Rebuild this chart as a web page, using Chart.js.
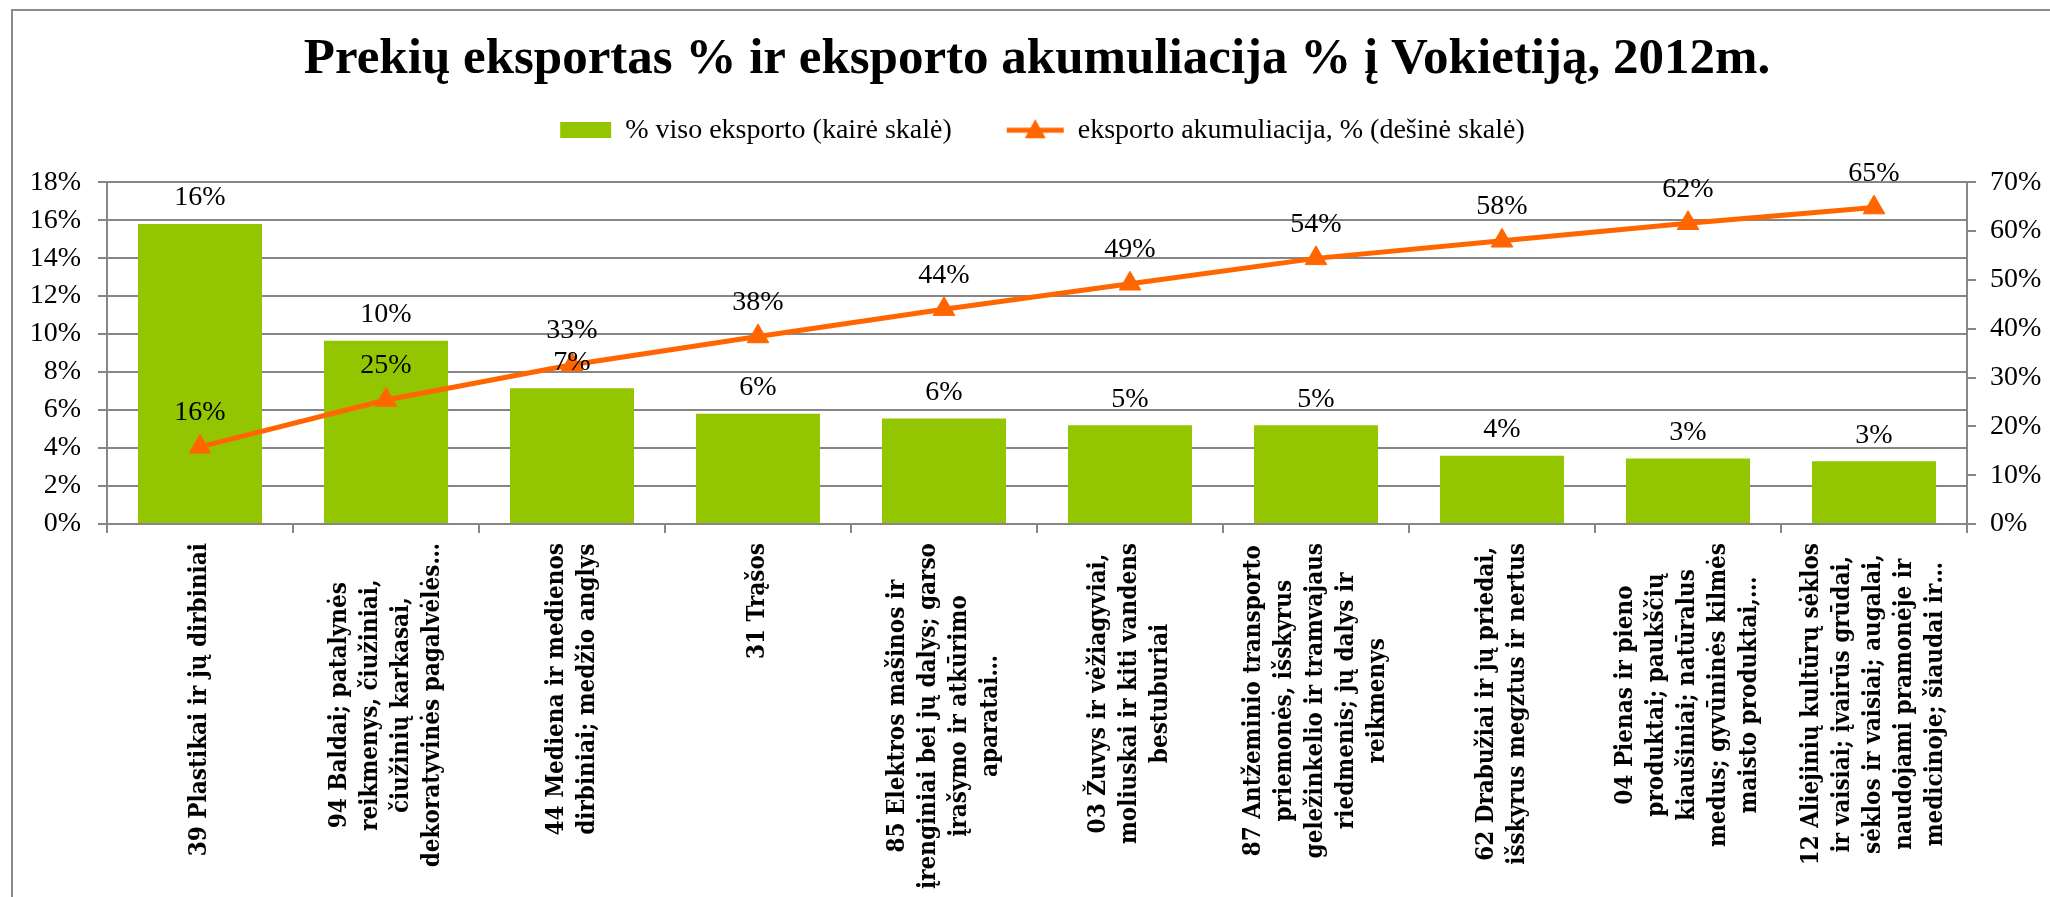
<!DOCTYPE html>
<html>
<head>
<meta charset="utf-8">
<script src="https://cdn.jsdelivr.net/npm/chart.js@4/dist/chart.umd.min.js"></script>
<style>
  html, body { margin: 0; padding: 0; background: #fff; }
  canvas { display: block; }
</style>
</head>
<body>
<canvas id="exportChart" width="2050" height="897"></canvas>
<script>
// Data
const categories = [
  ["39 Plastikai ir jų dirbiniai"],
  ["94 Baldai; patalynės", "reikmenys, čiužiniai,", "čiužinių karkasai,", "dekoratyvinės pagalvėlės…"],
  ["44 Mediena ir medienos", "dirbiniai; medžio anglys"],
  ["31 Trąšos"],
  ["85 Elektros mašinos ir", "įrenginiai bei jų dalys; garso", "įrašymo ir atkūrimo", "aparatai…"],
  ["03 Žuvys ir vėžiagyviai,", "moliuskai ir kiti vandens", "bestuburiai"],
  ["87 Antžeminio transporto", "priemonės, išskyrus", "geležinkelio ir tramvajaus", "riedmenis; jų dalys ir", "reikmenys"],
  ["62 Drabužiai ir jų priedai,", "išskyrus megztus ir nertus"],
  ["04 Pienas ir pieno", "produktai; paukščių", "kiaušiniai; natūralus", "medus; gyvūninės kilmės", "maisto produktai,…"],
  ["12 Aliejinių kultūrų sėklos", "ir vaisiai; įvairūs grūdai,", "sėklos ir vaisiai; augalai,", "naudojami pramonėje ir", "medicinoje; šiaudai ir…"]
];
const exportShare = [15.8, 9.65, 7.15, 5.8, 5.55, 5.2, 5.2, 3.6, 3.45, 3.3];
const exportCumulative = [15.8, 25.4, 32.6, 38.4, 44.0, 49.2, 54.4, 58.0, 61.6, 64.8];
const seriesNames = ["% viso eksporto (kairė skalė)", "eksporto akumuliacija, % (dešinė skalė)"];
const leftAxis = { min: 0, max: 18, step: 2 };
const rightAxis = { min: 0, max: 70, step: 10 };
const chartTitle = "Prekių eksportas % ir eksporto akumuliacija % į Vokietiją, 2012m.";

const GREEN = "#93c500";
const ORANGE = "#ff6600";
const GRID = "#868686";
const SERIF = "'Liberation Serif', 'Times New Roman', serif";

// legend symbols as small canvases
function legendBar() {
  const c = document.createElement("canvas");
  c.width = 100; c.height = 16;
  const g = c.getContext("2d");
  g.fillStyle = GREEN;
  g.fillRect(42, 0, 51, 16);
  return c;
}
function legendLine() {
  const c = document.createElement("canvas");
  c.width = 100; c.height = 24;
  const g = c.getContext("2d");
  g.strokeStyle = ORANGE;
  g.lineWidth = 5;
  g.beginPath(); g.moveTo(36, 12); g.lineTo(93, 12); g.stroke();
  g.fillStyle = ORANGE;
  g.beginPath(); g.moveTo(64.5, 1); g.lineTo(75, 20); g.lineTo(54, 20); g.closePath(); g.fill();
  return c;
}

const pct = v => Math.round(v) + "%";

// frame and background
const framePlugin = {
  id: "frame",
  beforeDraw(chart) {
    const ctx = chart.ctx;
    ctx.save();
    ctx.fillStyle = "#fff";
    ctx.fillRect(0, 0, chart.width, chart.height);
    ctx.strokeStyle = "#8c8c8c";
    ctx.lineWidth = 2;
    ctx.beginPath();
    ctx.moveTo(12, chart.height);
    ctx.lineTo(12, 10);
    ctx.lineTo(chart.width, 10);
    ctx.stroke();
    ctx.restore();
  }
};

// extra space below the legend
const legendSpace = {
  id: "legendSpace",
  beforeInit(chart) {
    const fit = chart.legend.fit;
    chart.legend.fit = function () {
      fit.bind(chart.legend)();
      this.height += 28;
    };
  }
};

// value labels above bars and points
const valueLabels = {
  id: "valueLabels",
  afterDatasetsDraw(chart) {
    const ctx = chart.ctx;
    ctx.save();
    ctx.font = "28px " + SERIF;
    ctx.fillStyle = "#000";
    ctx.textAlign = "center";
    ctx.textBaseline = "middle";
    chart.getDatasetMeta(0).data.forEach((el, i) => {
      ctx.fillText(pct(exportShare[i]), el.x, el.y - 26);
    });
    chart.getDatasetMeta(1).data.forEach((el, i) => {
      ctx.fillText(pct(exportCumulative[i]), el.x, el.y - 34);
    });
    ctx.restore();
  }
};

// rotated category labels, lines centred like in Excel
const categoryLabels = {
  id: "categoryLabels",
  afterDraw(chart) {
    const ctx = chart.ctx;
    const xs = chart.scales.x;
    const top = xs.top + 19;
    const lineH = 31;
    ctx.save();
    ctx.font = "bold 24px 'DejaVu Serif Condensed', 'Liberation Serif', serif";
    ctx.fillStyle = "#000";
    ctx.textAlign = "center";
    ctx.textBaseline = "middle";
    categories.forEach((lines, i) => {
      const x = xs.getPixelForValue(i);
      const w = Math.max(...lines.map(l => ctx.measureText(l).width));
      ctx.save();
      ctx.translate(x, top);
      ctx.rotate(-Math.PI / 2);
      lines.forEach((l, j) => {
        ctx.fillText(l, -w / 2, (j - (lines.length - 1) / 2) * lineH);
      });
      ctx.restore();
    });
    ctx.restore();
  }
};

new Chart(document.getElementById("exportChart"), {
  data: {
    labels: categories,
    datasets: [
      {
        type: "bar",
        label: seriesNames[0],
        data: exportShare,
        backgroundColor: GREEN,
        categoryPercentage: 1,
        barPercentage: 0.667,
        yAxisID: "y",
        order: 1
      },
      {
        type: "line",
        label: seriesNames[1],
        data: exportCumulative,
        borderColor: ORANGE,
        backgroundColor: ORANGE,
        borderWidth: 5,
        pointStyle: "triangle",
        pointRadius: 12.5,
        pointBorderWidth: 1,
        tension: 0,
        yAxisID: "y1",
        order: 0
      }
    ]
  },
  options: {
    responsive: false,
    animation: false,
    layout: { padding: 0 },
    scales: {
      x: {
        offset: true,
        grid: { drawOnChartArea: false, drawTicks: true, tickLength: 9, color: GRID, lineWidth: 2, offset: true },
        border: { color: GRID, width: 2 },
        ticks: { display: false },
        afterFit(scale) { scale.height = 897 - 524; }
      },
      y: {
        position: "left",
        min: leftAxis.min,
        max: leftAxis.max,
        grid: { color: GRID, lineWidth: 2, tickLength: 9 },
        border: { color: GRID, width: 2 },
        ticks: {
          stepSize: leftAxis.step,
          padding: 17,
          color: "#000",
          font: { family: SERIF, size: 28 },
          callback: v => v + "%"
        },
        afterFit(scale) { scale.width = 107; }
      },
      y1: {
        position: "right",
        min: rightAxis.min,
        max: rightAxis.max,
        grid: { drawOnChartArea: false, color: GRID, lineWidth: 2, tickLength: 9 },
        border: { color: GRID, width: 2 },
        ticks: {
          stepSize: rightAxis.step,
          padding: 14,
          color: "#000",
          font: { family: SERIF, size: 28 },
          callback: v => v + "%"
        },
        afterFit(scale) { scale.width = 2050 - 1967; }
      }
    },
    plugins: {
      title: {
        display: true,
        text: chartTitle,
        fullSize: false,
        color: "#000",
        font: { family: SERIF, size: 51, weight: "bold", lineHeight: 1.2 },
        padding: { top: 29, bottom: 0 }
      },
      legend: {
        display: true,
        position: "top",
        fullSize: true,
        labels: {
          usePointStyle: true,
          pointStyleWidth: 86,
          padding: 26,
          color: "#000",
          font: { family: SERIF, size: 28 },
          generateLabels(chart) {
            return chart.data.datasets.map((ds, i) => ({
              text: ds.label,
              datasetIndex: i,
              pointStyle: i === 0 ? legendBar() : legendLine(),
              fillStyle: ds.backgroundColor,
              strokeStyle: ds.borderColor || ds.backgroundColor,
              lineWidth: 0,
              hidden: false,
              fontColor: "#000"
            }));
          }
        }
      },
      tooltip: { enabled: false }
    }
  },
  plugins: [framePlugin, legendSpace, valueLabels, categoryLabels]
});
</script>
</body>
</html>
